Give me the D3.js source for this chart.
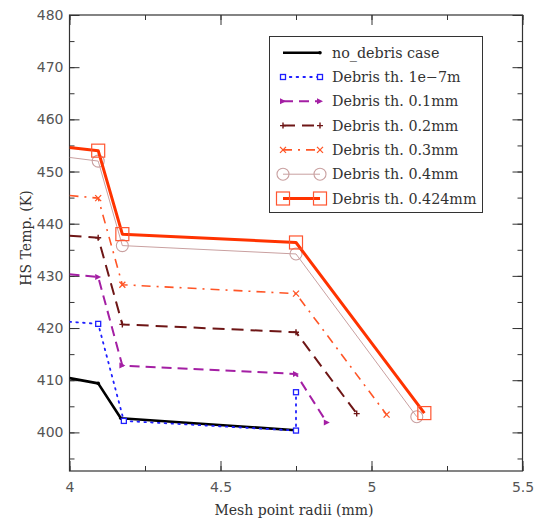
<!DOCTYPE html>
<html><head><meta charset="utf-8">
<script src="https://cdn.jsdelivr.net/npm/d3@7/dist/d3.min.js"></script>
<style>body{margin:0;background:#fff}svg{display:block}</style>
</head><body><svg id="c" width="539" height="519"></svg>
<script>
const seriesNames = ["no_debris case","Debris th. 1e\u22127m","Debris th. 0.1mm","Debris th. 0.2mm","Debris th. 0.3mm","Debris th. 0.4mm","Debris th. 0.424mm"];
const xNoDebris = [4.0, 4.095, 4.17, 4.75];
const yNoDebris = [410.4, 409.4, 402.7, 400.4];
const x1e7 = [4.0, 4.095, 4.18, 4.75, 4.75];
const y1e7 = [421.2, 420.8, 402.2, 400.35, 407.7];
const x01 = [4.0, 4.095, 4.175, 4.75, 4.852];
const y01 = [430.3, 429.8, 412.8, 411.2, 401.9];
const x02 = [4.0, 4.095, 4.175, 4.75, 4.951];
const y02 = [437.7, 437.3, 420.7, 419.2, 403.6];
const x03 = [4.0, 4.095, 4.175, 4.75, 5.05];
const y03 = [445.4, 444.9, 428.3, 426.6, 403.4];
const x04 = [4.0, 4.095, 4.175, 4.75, 5.15];
const y04 = [452.7, 452.0, 435.8, 434.2, 403.0];
const x0424 = [4.0, 4.095, 4.175, 4.75, 5.175];
const y0424 = [454.6, 454.0, 438.0, 436.4, 403.7];
const xTicks = [4, 4.5, 5, 5.5];
const yTicks = [400, 410, 420, 430, 440, 450, 460, 470, 480];

const styles = [
  {color:"#000000", w:2.6, dash:null, marker:"dot"},
  {color:"#1f1fff", w:1.8, dash:"1.6,5.2", marker:"sqsmall", cap:"round"},
  {color:"#a41fa4", w:2, dash:"10,6", marker:"tri"},
  {color:"#6e1616", w:2, dash:"12,7", marker:"plus"},
  {color:"#ff5526", w:1.6, dash:"9,6,2,6", marker:"x"},
  {color:"#c9a0a0", w:1, dash:null, marker:"circle"},
  {color:"#ff3300", w:3, dash:null, marker:"square"}
];
const xs = [xNoDebris,x1e7,x01,x02,x03,x04,x0424];
const ys = [yNoDebris,y1e7,y01,y02,y03,y04,y0424];

const svg = d3.select("#c");
const L=69.5, R=522.5, T=15, B=471;
const x = d3.scaleLinear().domain([4,5.5]).range([L,R]);
const y = d3.scaleLinear().domain([392.6,480]).range([B,T]);
const axisCol="#333";

svg.append("rect").attr("x",L).attr("y",T).attr("width",R-L).attr("height",B-T)
  .attr("fill","none").attr("stroke",axisCol).attr("stroke-width",1.2);

const g = svg.append("g");
function ticksAxis(axis, trans){
  const a = g.append("g").attr("transform",trans).call(axis);
  a.select(".domain").remove();
  a.selectAll("line").attr("stroke",axisCol);
  a.selectAll("text").attr("font-family","DejaVu Sans").attr("font-size",14).attr("fill","#555");
  return a;
}
const xMinor = d3.range(4,5.51,0.25);
const yMinor = d3.range(395,480.1,5);
ticksAxis(d3.axisBottom(x).tickValues(xMinor).tickSize(-5).tickFormat(""), `translate(0,${B})`);
ticksAxis(d3.axisTop(x).tickValues(xMinor).tickSize(-5).tickFormat(""), `translate(0,${T})`);
ticksAxis(d3.axisLeft(y).tickValues(yMinor).tickSize(-5).tickFormat(""), `translate(${L},0)`);
ticksAxis(d3.axisRight(y).tickValues(yMinor).tickSize(-5).tickFormat(""), `translate(${R},0)`);
const xa = ticksAxis(d3.axisBottom(x).tickValues(xTicks).tickSize(-10).tickFormat(d3.format("")), `translate(0,${B})`);
xa.selectAll("text").attr("dy",0).attr("y",21);
ticksAxis(d3.axisTop(x).tickValues(xTicks).tickSize(-10).tickFormat(""), `translate(0,${T})`);
const ya = ticksAxis(d3.axisLeft(y).tickValues(yTicks).tickSize(-10).tickFormat(d3.format("d")), `translate(${L},0)`);
ya.selectAll("text").attr("x",-6);
ticksAxis(d3.axisRight(y).tickValues(yTicks).tickSize(-10).tickFormat(""), `translate(${R},0)`);

svg.append("text").attr("x",(L+R)/2-2).attr("y",515).attr("text-anchor","middle")
  .attr("font-family","DejaVu Serif").attr("font-size",14).attr("fill","#333").text("Mesh point radii (mm)");
svg.append("text").attr("transform","translate(31,238) rotate(-90)").attr("text-anchor","middle")
  .attr("font-family","DejaVu Serif").attr("font-size",14).attr("fill","#333").text("HS Temp. (K)");

svg.append("clipPath").attr("id","clip").append("rect").attr("x",L).attr("y",T).attr("width",R-L).attr("height",B-T);
const plot = svg.append("g").attr("clip-path","url(#clip)");

function drawMarker(sel, type, color, cx, cy){
  const m = sel.append("g").attr("transform",`translate(${cx},${cy})`);
  if(type==="dot") m.append("circle").attr("r",1.8).attr("fill",color);
  else if(type==="sqsmall") m.append("rect").attr("x",-2.5).attr("y",-2.5).attr("width",5).attr("height",5).attr("fill","#fff").attr("stroke",color).attr("stroke-width",1.3);
  else if(type==="tri") m.append("path").attr("d","M-3,-3 L3,0 L-3,3 Z").attr("fill",color);
  else if(type==="plus") m.append("path").attr("d","M-3,0H3M0,-3V3").attr("stroke",color).attr("stroke-width",1.4);
  else if(type==="x") m.append("path").attr("d","M-3,-3L3,3M-3,3L3,-3").attr("stroke",color).attr("stroke-width",1.3);
  else if(type==="circle") m.append("circle").attr("r",6).attr("fill","none").attr("stroke",color).attr("stroke-width",1.1);
  else if(type==="square") m.append("rect").attr("x",-6.5).attr("y",-6.5).attr("width",13).attr("height",13).attr("fill","none").attr("stroke","#ff5530").attr("stroke-width",1.2);
}

const line = d3.line().x(d=>x(d[0])).y(d=>y(d[1]));
styles.forEach((s,i)=>{
  const pts = xs[i].map((v,j)=>[v, ys[i][j]]);
  const p = plot.append("path").datum(pts).attr("d",line).attr("fill","none")
    .attr("stroke",s.color).attr("stroke-width",s.w).attr("stroke-linejoin","round");
  if(s.dash) p.attr("stroke-dasharray",s.dash);
  if(s.cap) p.attr("stroke-linecap",s.cap);
  pts.forEach((d,j)=>{ if(j>0) drawMarker(plot, s.marker, s.color, x(d[0]), y(d[1])); });
});

const lg = svg.append("g");
lg.append("rect").attr("x",269.5).attr("y",36.5).attr("width",213).attr("height",176)
  .attr("fill","#fff").attr("stroke",axisCol).attr("stroke-width",1);
styles.forEach((s,i)=>{
  const cy = 52.7 + i*24.3;
  const p = lg.append("line").attr("x1",283).attr("x2",320).attr("y1",cy).attr("y2",cy)
    .attr("stroke",s.color).attr("stroke-width",s.w);
  if(s.dash) p.attr("stroke-dasharray",s.dash);
  if(s.cap) p.attr("stroke-linecap",s.cap);
  if(s.marker!=="dot"){ drawMarker(lg, s.marker, s.color, 283, cy); }
  drawMarker(lg, s.marker, s.color, 320, cy);
  lg.append("text").attr("x",332).attr("y",cy+5).attr("font-family","DejaVu Serif")
    .attr("font-size",14.3).attr("fill","#333").text(seriesNames[i]);
});
</script></body></html>
